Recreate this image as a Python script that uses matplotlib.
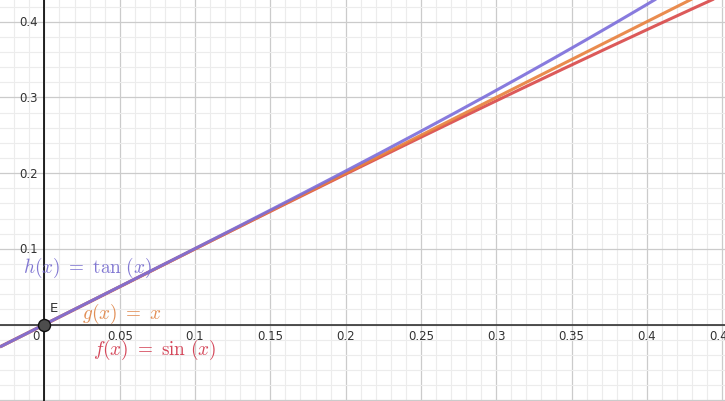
import numpy as np
import matplotlib
matplotlib.use("Agg")
import matplotlib.pyplot as plt
from matplotlib.ticker import MultipleLocator

plt.rcParams["mathtext.fontset"] = "cm"

# ---- data ----
x_range = (-0.0295, 0.4519)
y_range = (-0.101, 0.430)
x_tick_vals = [0.05, 0.1, 0.15, 0.2, 0.25, 0.3, 0.35, 0.4, 0.45]
x_tick_labels = ["0.05", "0.1", "0.15", "0.2", "0.25", "0.3", "0.35", "0.4", "0.45"]
y_tick_vals = [0.1, 0.2, 0.3, 0.4]
y_tick_labels = ["0.1", "0.2", "0.3", "0.4"]
func_names = ["f", "g", "h"]
func_labels = [r"$f(x)\ =\ \sin\,(x)$", r"$g(x)\ =\ x$", r"$h(x)\ =\ \tan\,(x)$"]
label_pos = [(0.0322, -0.0324), (0.0247, 0.0152), (-0.0143, 0.076)]
point_name = "E"
point_xy = (0.0, 0.0)

line_colors = ["#d94848", "#e8803c", "#7b6ddb"]
label_colors = ["#d23c50", "#e0884c", "#7a70d0"]

fig = plt.figure(figsize=(7.25, 4.02), dpi=100)
ax = fig.add_axes([0, 0, 1, 1])
ax.set_xlim(*x_range)
ax.set_ylim(*y_range)
for s in ax.spines.values():
    s.set_visible(False)

ax.xaxis.set_major_locator(MultipleLocator(0.05))
ax.xaxis.set_minor_locator(MultipleLocator(0.01))
ax.yaxis.set_major_locator(MultipleLocator(0.1))
ax.yaxis.set_minor_locator(MultipleLocator(0.02))
ax.grid(which="minor", color="#ececec", linewidth=0.8)
ax.grid(which="major", color="#cbcbcb", linewidth=0.9)
ax.tick_params(which="both", length=0, labelbottom=False, labelleft=False)
ax.set_axisbelow(True)

ax.axhline(0, color="#333333", linewidth=1.2, zorder=2)
ax.axvline(0, color="#000000", linewidth=1.2, zorder=2)

for v, t in zip(x_tick_vals, x_tick_labels):
    ax.text(v, -0.0145, t, ha="center", va="center", fontsize=8.5,
            color="#333333", family="DejaVu Sans")
for v, t in zip(y_tick_vals, y_tick_labels):
    ax.text(-0.0045, v, t, ha="right", va="center", fontsize=8.5,
            color="#333333", family="DejaVu Sans")
ax.text(-0.0055, -0.0145, "0", ha="center", va="center", fontsize=8.5,
        color="#333333", family="DejaVu Sans")

xs = np.linspace(x_range[0], x_range[1], 600)
funcs = [np.sin, lambda v: v, np.tan]
for fn, c in zip(funcs, line_colors):
    ax.plot(xs, fn(xs), color=c, linewidth=2.2, alpha=0.9, zorder=3,
            solid_capstyle="butt")

for lab, (lx, ly), c in zip(func_labels, label_pos, label_colors):
    ax.text(lx, ly, lab, ha="left", va="center", fontsize=13.8, color=c,
            zorder=5, alpha=0.95)

ax.scatter([point_xy[0]], [point_xy[1]], s=75, color="#4d4d4d",
           edgecolor="#111111", linewidth=1.0, zorder=6)
ax.text(point_xy[0] + 0.0035, point_xy[1] + 0.023, point_name, fontsize=9.5,
        color="#333333", ha="left", va="center", family="DejaVu Sans", zorder=6)

fig.savefig("out.png", dpi=100)
